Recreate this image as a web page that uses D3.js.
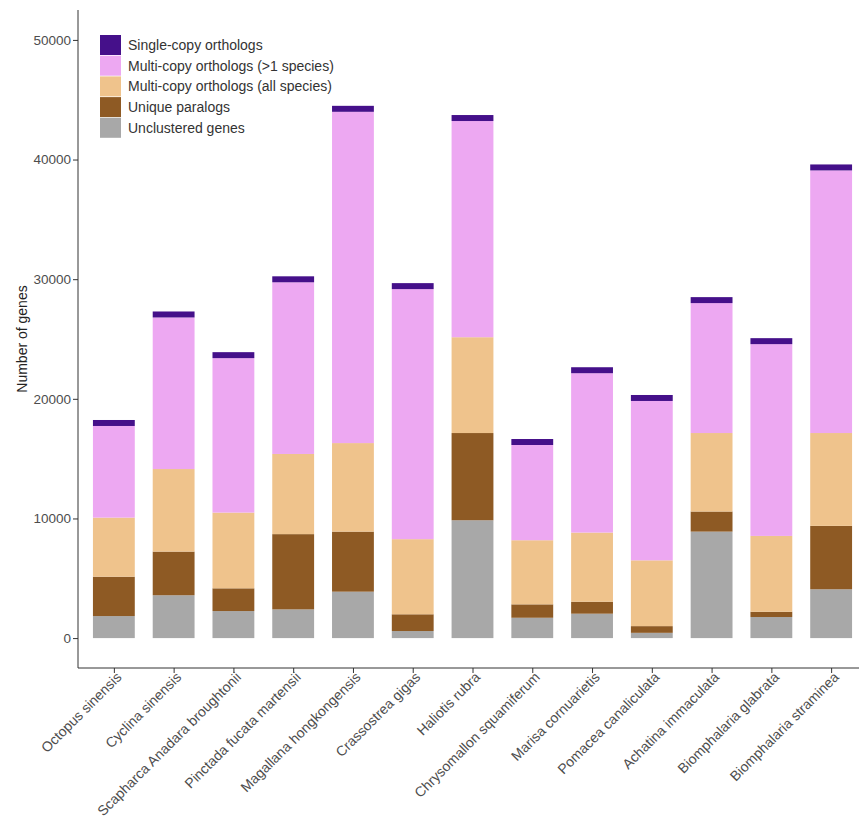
<!DOCTYPE html>
<html><head><meta charset="utf-8">
<script src="https://cdn.jsdelivr.net/npm/d3@7"></script>
<style>body{margin:0;background:#fff}svg{display:block;font-family:"Liberation Sans",Arial,sans-serif}</style>
</head><body><svg id="c" width="859" height="822"></svg>
<script>
const species = ["Octopus sinensis","Cyclina sinensis","Scapharca Anadara broughtonii","Pinctada fucata martensii","Magallana hongkongensis","Crassostrea gigas","Haliotis rubra","Chrysomallon squamiferum","Marisa cornuarietis","Pomacea canaliculata","Achatina immaculata","Biomphalaria glabrata","Biomphalaria straminea"];
const unclustered = [1840,3580,2260,2400,3880,590,9850,1700,2040,440,8900,1760,4080];
const uniqueParalogs = [3290,3650,1900,6290,5020,1400,7290,1120,1000,560,1680,440,5300];
const multiAll = [4940,6900,6330,6700,7400,6280,8010,5360,5780,5500,6560,6340,7760];
const multiSome = [7660,12670,12910,14350,27690,20900,18070,7960,13320,13320,10860,16030,21950];
const singleCopy = [500,500,500,500,500,500,500,500,500,500,500,500,500];
const yTicks = [0,10000,20000,30000,40000,50000];
const seriesNames = ["Single-copy orthologs","Multi-copy orthologs (>1 species)","Multi-copy orthologs (all species)","Unique paralogs","Unclustered genes"];
const seriesColors = ["#45108a","#eda8f2","#efc38c","#8e5a24","#a8a8a8"];

const svg = d3.select("#c");
const mLeft = 78, mBottom = 668, mTop = 10, mRight = 867;
const x = d3.scalePoint().domain(species).range([mLeft, mRight]).padding(0.6);
const bw = x.step() * 0.7;
const y = d3.scaleLinear().domain([-2500, 52500]).range([mBottom, mTop]);

// stacked bars
const stackOrder = [unclustered, uniqueParalogs, multiAll, multiSome, singleCopy];
const stackColors = [seriesColors[4], seriesColors[3], seriesColors[2], seriesColors[1], seriesColors[0]];
const rows = species.map((s,i)=>{const o={sp:s}; stackOrder.forEach((arr,k)=>o["k"+k]=arr[i]); return o;});
const stacked = d3.stack().keys(stackOrder.map((_,k)=>"k"+k))(rows);
const g = svg.append("g");
stacked.forEach((layer,k)=>{
  g.selectAll(null).data(layer).join("rect")
    .attr("x", d=>x(d.data.sp)-bw/2).attr("width", bw)
    .attr("y", d=>y(d[1])).attr("height", d=>y(d[0])-y(d[1]))
    .attr("fill", stackColors[k]);
});

// axes
const ya = svg.append("g").attr("transform",`translate(${mLeft},0)`)
  .call(d3.axisLeft(y).tickValues(yTicks).tickSize(5).tickPadding(2).tickFormat(d3.format("d")));
ya.select(".domain").attr("d",`M0,${mTop}V${mBottom}`).attr("stroke","#333").attr("stroke-width",1);
ya.selectAll(".tick line").attr("stroke","#333");
ya.selectAll(".tick text").attr("fill","#4d4d4d").style("font-size","13.5px");

const xa = svg.append("g").attr("transform",`translate(0,${mBottom})`)
  .call(d3.axisBottom(x).tickSize(5).tickPadding(3));
xa.select(".domain").attr("d",`M${mLeft},0H859`).attr("stroke","#333").attr("stroke-width",1);
xa.selectAll(".tick line").attr("stroke","#333");
xa.selectAll(".tick text").attr("fill","#4d4d4d").style("font-size","14px")
  .attr("text-anchor","end").attr("dy","0.71em")
  .attr("transform","translate(1,3) rotate(-45)").attr("x",0).attr("y",0);

svg.append("text").attr("transform",`translate(27,${(mTop+mBottom)/2}) rotate(-90)`)
  .attr("text-anchor","middle").attr("fill","#222").style("font-size","14px").text("Number of genes");

// legend
const lg = svg.append("g").attr("transform","translate(100,35)");
seriesNames.forEach((n,i)=>{
  lg.append("rect").attr("x",0).attr("y",i*20.7).attr("width",21).attr("height",20).attr("fill",seriesColors[i]);
  lg.append("text").attr("x",28).attr("y",i*20.7+10).attr("dy","0.35em").attr("fill","#333")
    .style("font-size","14px").text(n);
});
</script></body></html>
